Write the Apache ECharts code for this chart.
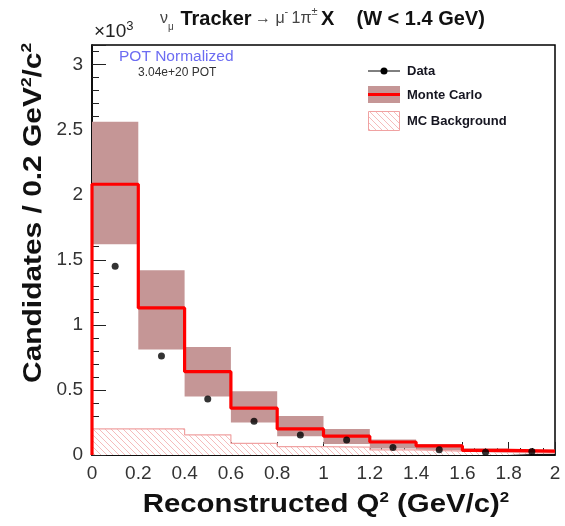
<!DOCTYPE html>
<html>
<head>
<meta charset="utf-8">
<script src="https://cdn.jsdelivr.net/npm/echarts@6/dist/echarts.min.js"></script>
<style>
html, body { margin: 0; padding: 0; background: #fff; }
#chart { width: 565px; height: 526px; }
</style>
</head>
<body>
<div id="chart"></div>
<script>
// Q2 bins (GeV/c)^2, values in units of 10^3 candidates
var binEdges   = [0, 0.2, 0.4, 0.6, 0.8, 1.0, 1.2, 1.4, 1.6, 1.8, 2.0];
var binCenters = [0.1, 0.3, 0.5, 0.7, 0.9, 1.1, 1.3, 1.5, 1.7, 1.9];
var mcValues   = [2.08, 1.13, 0.64, 0.36, 0.20, 0.145, 0.10, 0.07, 0.035, 0.03];
var mcLow      = [1.62, 0.81, 0.45, 0.25, 0.145, 0.085, 0.05, 0.035, 0.02, 0.015];
var mcHigh     = [2.56, 1.42, 0.83, 0.49, 0.30, 0.20, 0.12, 0.085, 0.05, 0.04];
var bkgValues  = [0.20, 0.20, 0.155, 0.09, 0.065, 0.06, 0.04, 0.03, 0.02, 0.015];
var dataValues = [1.45, 0.76, 0.43, 0.26, 0.153, 0.115, 0.058, 0.04, 0.022, 0.026];

var FONT = '"Liberation Sans", Arial, Helvetica, sans-serif';
var bandColor = '#c59696';
var hatchColor = '#f5bcbc';
var hatchEdge = '#f0a2a2';

function makeHatch() {
	var c = document.createElement('canvas');
	var s = 6;
	c.width = s; c.height = s;
	var ctx = c.getContext('2d');
	ctx.fillStyle = '#fff';
	ctx.fillRect(0, 0, s, s);
	ctx.strokeStyle = hatchColor;
	ctx.lineWidth = 1;
	ctx.beginPath();
	ctx.moveTo(0, 0); ctx.lineTo(s, s);
	ctx.moveTo(-2, s - 2); ctx.lineTo(2, s + 2);
	ctx.moveTo(s - 2, -2); ctx.lineTo(s + 2, 2);
	ctx.stroke();
	return c;
}
var hatch = makeHatch();

function stepPoints(vals) {
	var pts = [[binEdges[0], 0]];
	for (var i = 0; i < vals.length; i++) {
		pts.push([binEdges[i], vals[i]]);
	}
	pts.push([binEdges[vals.length], vals[vals.length - 1]]);
	return pts;
}

var bandData = [];
for (var i = 0; i < mcValues.length; i++) {
	bandData.push([binEdges[i], binEdges[i + 1], mcLow[i], mcHigh[i]]);
}
var dotData = [];
for (var j = 0; j < dataValues.length; j++) {
	dotData.push([binCenters[j], dataValues[j]]);
}

var chart = echarts.init(document.getElementById('chart'), null, { renderer: 'canvas' });

var option = {
	animation: false,
	backgroundColor: '#fff',
	grid: {
		left: 92, right: 10, top: 45, bottom: 71,
		show: true, borderColor: '#000', borderWidth: 1.5, backgroundColor: 'transparent'
	},
	xAxis: {
		type: 'value', min: 0, max: 2, interval: 0.2,
		axisLine: { show: true, onZero: false, lineStyle: { color: '#000', width: 1.5 } },
		axisTick: { show: true, inside: true, length: 13, lineStyle: { color: '#222', width: 1 } },
		minorTick: { show: true, splitNumber: 4, length: 7, lineStyle: { color: '#222', width: 1 } },
		splitLine: { show: false },
		axisLabel: { fontFamily: FONT, fontSize: 19, color: '#333', margin: 9 }
	},
	yAxis: {
		type: 'value', min: 0, max: 3.15, interval: 0.5,
		axisLine: { show: true, onZero: false, lineStyle: { color: '#000', width: 1.5 } },
		axisTick: { show: true, inside: true, length: 14, lineStyle: { color: '#222', width: 1 } },
		minorTick: { show: true, splitNumber: 5, length: 7, lineStyle: { color: '#222', width: 1 } },
		splitLine: { show: false },
		axisLabel: { fontFamily: FONT, fontSize: 19, color: '#333', margin: 9, showMaxLabel: false }
	},
	series: [
		{
			name: 'Monte Carlo band',
			type: 'custom',
			data: bandData,
			encode: { x: [0, 1], y: [2, 3] },
			renderItem: function (params, api) {
				var p1 = api.coord([api.value(0), api.value(3)]);
				var p2 = api.coord([api.value(1), api.value(2)]);
				return {
					type: 'rect',
					shape: { x: p1[0], y: p1[1], width: p2[0] - p1[0], height: p2[1] - p1[1] },
					style: { fill: bandColor }
				};
			},
			z: 1
		},
		{
			name: 'MC Background',
			type: 'line',
			step: 'end',
			data: stepPoints(bkgValues),
			showSymbol: false,
			lineStyle: { color: hatchEdge, width: 1.2 },
			areaStyle: { color: { image: hatch, repeat: 'repeat' }, opacity: 1 },
			z: 2
		},
		{
			name: 'Monte Carlo',
			type: 'line',
			step: 'end',
			data: stepPoints(mcValues),
			showSymbol: false,
			lineStyle: { color: '#ff0000', width: 3.2 },
			z: 3
		},
		{
			name: 'Data',
			type: 'scatter',
			data: dotData,
			symbol: 'circle',
			symbolSize: 7,
			itemStyle: { color: '#000' },
			z: 4
		}
	],
	graphic: [
		{
			type: 'text', x: 160, y: 19,
			style: {
				text: '{n|ν}{sub|μ}  {b|Tracker} {n|→ μ}{sup|-} {n|1π}{sup|±} {b|X    (W < 1.4 GeV)}',
				verticalAlign: 'middle', fontFamily: FONT,
				rich: {
					b: { fontSize: 20, fontWeight: 'bold', fontFamily: FONT, fill: '#111', lineHeight: 26 },
					n: { fontSize: 16, fontFamily: FONT, fill: '#444', lineHeight: 26 },
					sub: { fontSize: 10, fontFamily: FONT, fill: '#444', verticalAlign: 'bottom', lineHeight: 20 },
					sup: { fontSize: 11, fontFamily: FONT, fill: '#444', verticalAlign: 'top', lineHeight: 26 }
				}
			}
		},
		{
			type: 'text', x: 94, y: 32,
			style: {
				text: '×10{sup|3}', verticalAlign: 'middle', fontFamily: FONT, fontSize: 19, fill: '#222',
				rich: { sup: { fontSize: 13, fontFamily: FONT, fill: '#222', verticalAlign: 'top', lineHeight: 24 } }
			}
		},
		{
			type: 'text', x: 119, y: 57,
			style: { text: 'POT Normalized', verticalAlign: 'middle', fontFamily: FONT, fontSize: 15.5, fill: '#6c6cf2' }
		},
		{
			type: 'text', x: 138, y: 73,
			style: { text: '3.04e+20 POT', verticalAlign: 'middle', fontFamily: FONT, fontSize: 12, fill: '#333' }
		},
		// legend
		{ type: 'line', shape: { x1: 368, y1: 71, x2: 400, y2: 71 }, style: { stroke: '#000', lineWidth: 1 } },
		{ type: 'circle', shape: { cx: 384, cy: 71, r: 3.5 }, style: { fill: '#000' } },
		{ type: 'text', x: 407, y: 71, style: { text: 'Data', verticalAlign: 'middle', fontFamily: FONT, fontSize: 13, fontWeight: 'bold', fill: '#151520' } },
		{ type: 'rect', shape: { x: 368, y: 86, width: 32, height: 17 }, style: { fill: bandColor } },
		{ type: 'line', shape: { x1: 368, y1: 94.5, x2: 400, y2: 94.5 }, style: { stroke: '#ff0000', lineWidth: 3 } },
		{ type: 'text', x: 407, y: 95, style: { text: 'Monte Carlo', verticalAlign: 'middle', fontFamily: FONT, fontSize: 13, fontWeight: 'bold', fill: '#151520' } },
		{ type: 'rect', shape: { x: 368.5, y: 111.5, width: 31, height: 19 }, style: { fill: { image: hatch, repeat: 'repeat' }, stroke: hatchEdge, lineWidth: 1 } },
		{ type: 'text', x: 407, y: 121, style: { text: 'MC Background', verticalAlign: 'middle', fontFamily: FONT, fontSize: 13, fontWeight: 'bold', fill: '#151520' } },
		// axis titles
		{
			type: 'text', x: 326, y: 505, scaleX: 1.13,
			style: {
				text: 'Reconstructed Q{sup|2} (GeV/c){sup|2}', align: 'center', verticalAlign: 'middle',
				fontFamily: FONT, fontSize: 26, fontWeight: 'bold', fill: '#111',
				rich: { sup: { fontSize: 15, fontWeight: 'bold', fontFamily: FONT, fill: '#111', verticalAlign: 'top', lineHeight: 30 } }
			}
		},
		{
			type: 'text', x: 34, y: 43, rotation: Math.PI / 2, scaleX: 1.15,
			style: {
				text: 'Candidates / 0.2 GeV{sup|2}/c{sup|2}', align: 'right', verticalAlign: 'middle',
				fontFamily: FONT, fontSize: 26, fontWeight: 'bold', fill: '#111',
				rich: { sup: { fontSize: 15, fontWeight: 'bold', fontFamily: FONT, fill: '#111', verticalAlign: 'top', lineHeight: 30 } }
			}
		}
	]
};
chart.setOption(option);
</script>
</body>
</html>
